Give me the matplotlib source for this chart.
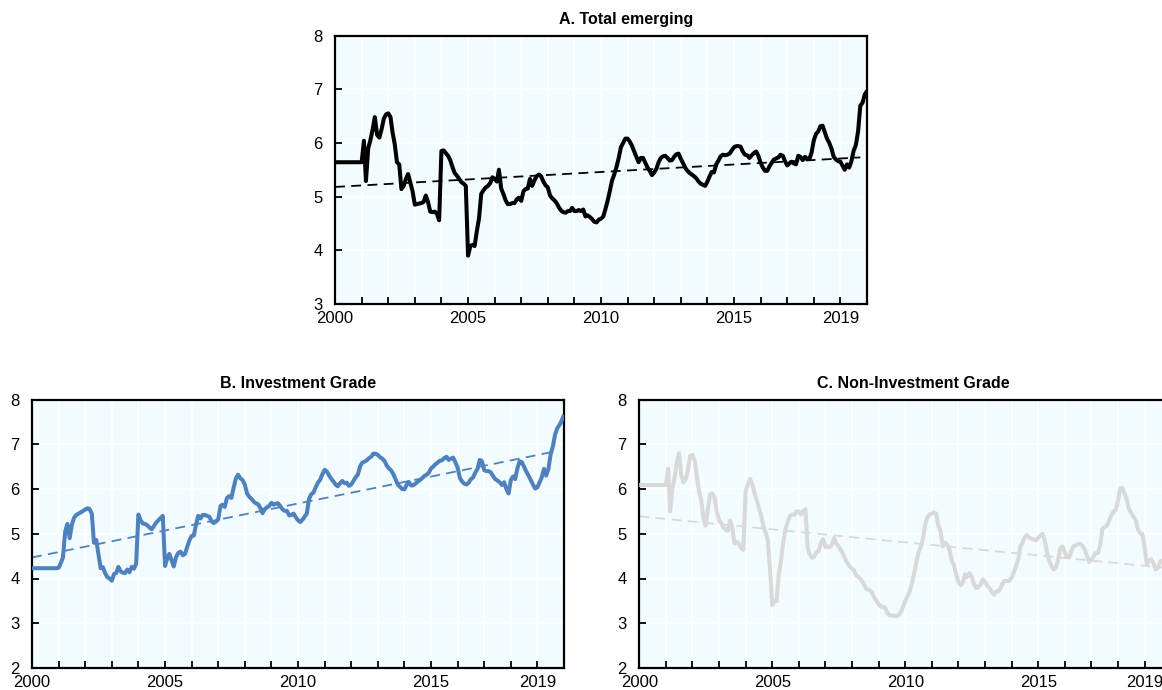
import matplotlib
matplotlib.use("Agg")
import matplotlib.pyplot as plt
import pandas as pd

plt.rcParams['font.family'] = ['Liberation Sans', 'DejaVu Sans']

# ---------------- data (monthly, starting January 2000) ----------------
start_date = '2000-01-01'

total_emerging = [
    5.64, 5.64, 5.64, 5.64, 5.64, 5.64, 5.64, 5.64, 5.64, 5.64, 5.64, 5.64,
    5.64, 6.04, 5.29, 5.90, 6.05, 6.25, 6.48, 6.15, 6.10, 6.25, 6.45, 6.53,
    6.55, 6.48, 6.20, 5.97, 5.64, 5.60, 5.14, 5.20, 5.33, 5.42, 5.26, 5.10,
    4.85, 4.86, 4.87, 4.88, 4.90, 5.02, 4.90, 4.72, 4.71, 4.72, 4.68, 4.56,
    5.85, 5.86, 5.81, 5.76, 5.68, 5.55, 5.44, 5.39, 5.33, 5.27, 5.24, 5.20,
    3.90, 4.08, 4.10, 4.08, 4.35, 4.60, 5.05, 5.12, 5.17, 5.20, 5.25, 5.36,
    5.33, 5.28, 5.50, 5.15, 5.05, 4.93, 4.86, 4.86, 4.88, 4.88, 4.95, 4.98,
    4.92, 5.10, 5.14, 5.15, 5.33, 5.20, 5.30, 5.38, 5.41, 5.38, 5.28, 5.21,
    5.17, 5.02, 4.97, 4.93, 4.88, 4.80, 4.74, 4.71, 4.70, 4.73, 4.73, 4.79,
    4.73, 4.73, 4.75, 4.73, 4.76, 4.63, 4.65, 4.62, 4.58, 4.53, 4.52, 4.57,
    4.59, 4.63, 4.76, 4.92, 5.10, 5.30, 5.41, 5.55, 5.72, 5.92, 6.00, 6.08,
    6.08, 6.02, 5.95, 5.84, 5.74, 5.64, 5.72, 5.72, 5.63, 5.54, 5.48, 5.40,
    5.45, 5.52, 5.64, 5.72, 5.75, 5.76, 5.72, 5.67, 5.68, 5.74, 5.79, 5.80,
    5.70, 5.62, 5.54, 5.48, 5.44, 5.41, 5.38, 5.34, 5.28, 5.24, 5.22, 5.20,
    5.28, 5.38, 5.46, 5.45, 5.60, 5.67, 5.75, 5.78, 5.77, 5.78, 5.80, 5.86,
    5.92, 5.94, 5.94, 5.93, 5.84, 5.78, 5.77, 5.72, 5.77, 5.81, 5.84, 5.76,
    5.63, 5.54, 5.48, 5.48, 5.56, 5.63, 5.69, 5.71, 5.73, 5.78, 5.76, 5.66,
    5.58, 5.62, 5.65, 5.62, 5.60, 5.76, 5.74, 5.68, 5.74, 5.71, 5.70, 5.82,
    6.05, 6.17, 6.21, 6.31, 6.32, 6.20, 6.08, 6.00, 5.89, 5.74, 5.69, 5.66,
    5.65, 5.57, 5.50, 5.60, 5.54, 5.66, 5.85, 5.96, 6.22, 6.69, 6.75, 6.90,
    6.97,
]

investment_grade = [
    4.23, 4.23, 4.23, 4.23, 4.23, 4.23, 4.23, 4.23, 4.23, 4.23, 4.23, 4.23,
    4.24, 4.35, 4.47, 5.05, 5.22, 4.90, 5.20, 5.36, 5.42, 5.45, 5.48, 5.51,
    5.54, 5.57, 5.55, 5.45, 4.80, 4.86, 4.55, 4.23, 4.25, 4.12, 4.03, 4.00,
    3.95, 4.10, 4.12, 4.26, 4.16, 4.13, 4.12, 4.20, 4.14, 4.26, 4.22, 4.33,
    5.43, 5.30, 5.23, 5.22, 5.19, 5.14, 5.10, 5.17, 5.25, 5.30, 5.35, 5.40,
    4.28, 4.46, 4.55, 4.40, 4.27, 4.48, 4.57, 4.60, 4.52, 4.55, 4.70, 4.85,
    4.95, 4.96, 5.20, 5.40, 5.34, 5.42, 5.42, 5.40, 5.38, 5.28, 5.24, 5.27,
    5.32, 5.62, 5.65, 5.60, 5.80, 5.84, 5.80, 6.03, 6.24, 6.32, 6.24, 6.20,
    6.10, 5.90, 5.83, 5.78, 5.72, 5.68, 5.66, 5.58, 5.46, 5.55, 5.59, 5.62,
    5.69, 5.65, 5.67, 5.68, 5.62, 5.55, 5.51, 5.51, 5.41, 5.42, 5.45, 5.37,
    5.30, 5.26, 5.31, 5.38, 5.45, 5.78, 5.88, 5.92, 6.04, 6.14, 6.21, 6.33,
    6.43, 6.39, 6.31, 6.23, 6.17, 6.10, 6.06, 6.13, 6.18, 6.13, 6.14, 6.07,
    6.10, 6.18, 6.26, 6.32, 6.50, 6.59, 6.61, 6.64, 6.69, 6.72, 6.79, 6.79,
    6.76, 6.71, 6.68, 6.63, 6.53, 6.46, 6.42, 6.33, 6.22, 6.10, 6.05, 6.00,
    5.99, 6.10, 6.16, 6.08, 6.08, 6.12, 6.16, 6.20, 6.24, 6.29, 6.32, 6.36,
    6.46, 6.50, 6.55, 6.59, 6.63, 6.64, 6.69, 6.72, 6.65, 6.68, 6.70, 6.60,
    6.48, 6.25, 6.17, 6.12, 6.10, 6.14, 6.22, 6.26, 6.37, 6.45, 6.65, 6.62,
    6.42, 6.40, 6.40, 6.37, 6.29, 6.22, 6.19, 6.15, 6.09, 6.15, 6.00, 5.90,
    6.20, 6.28, 6.22, 6.46, 6.62, 6.60, 6.50, 6.39, 6.30, 6.20, 6.10, 6.01,
    6.04, 6.15, 6.26, 6.45, 6.30, 6.45, 6.77, 6.95, 7.22, 7.36, 7.43, 7.53,
    7.66,
]

non_investment_grade = [
    6.09, 6.09, 6.09, 6.09, 6.09, 6.09, 6.09, 6.09, 6.09, 6.09, 6.09, 6.09,
    6.09, 6.45, 5.50, 6.02, 6.25, 6.60, 6.80, 6.30, 6.15, 6.22, 6.42, 6.74,
    6.76, 6.64, 6.30, 5.95, 5.76, 5.35, 5.18, 5.55, 5.88, 5.90, 5.80, 5.50,
    5.30, 5.23, 5.14, 5.09, 5.07, 5.30, 5.14, 4.78, 4.82, 4.77, 4.68, 4.64,
    5.95, 6.10, 6.23, 6.12, 5.92, 5.75, 5.58, 5.40, 5.17, 5.03, 4.85, 4.20,
    3.40, 3.50, 3.49, 4.10, 4.40, 4.82, 5.10, 5.27, 5.40, 5.43, 5.42, 5.50,
    5.50, 5.43, 5.50, 5.55, 4.70, 4.53, 4.46, 4.50, 4.59, 4.62, 4.80, 4.88,
    4.70, 4.72, 4.70, 4.75, 4.90, 4.78, 4.72, 4.64, 4.55, 4.43, 4.34, 4.27,
    4.22, 4.17, 4.06, 4.03, 3.98, 3.91, 3.80, 3.75, 3.74, 3.69, 3.58, 3.50,
    3.43, 3.37, 3.37, 3.34, 3.23, 3.18, 3.17, 3.17, 3.16, 3.18, 3.25, 3.36,
    3.50, 3.60, 3.70, 3.87, 4.10, 4.35, 4.58, 4.70, 4.88, 5.20, 5.37, 5.43,
    5.45, 5.48, 5.45, 5.18, 5.05, 4.72, 4.80, 4.75, 4.64, 4.40, 4.30, 4.10,
    3.92, 3.85, 3.90, 4.10, 4.03, 4.12, 4.04, 3.88, 3.79, 3.80, 3.87, 3.98,
    3.92, 3.84, 3.79, 3.71, 3.64, 3.71, 3.71, 3.78, 3.90, 3.95, 3.94, 3.95,
    4.02, 4.15, 4.27, 4.42, 4.72, 4.80, 4.93, 4.97, 4.91, 4.89, 4.87, 4.85,
    4.91, 4.96, 5.00, 4.85, 4.58, 4.40, 4.28, 4.20, 4.25, 4.42, 4.67, 4.72,
    4.58, 4.48, 4.47, 4.62, 4.72, 4.74, 4.77, 4.77, 4.73, 4.64, 4.50, 4.37,
    4.42, 4.50, 4.57, 4.57, 4.75, 5.12, 5.15, 5.18, 5.30, 5.41, 5.50, 5.53,
    5.75, 6.02, 6.02, 5.90, 5.76, 5.55, 5.47, 5.38, 5.30, 5.10, 5.01, 5.00,
    4.70, 4.30, 4.40, 4.43, 4.35, 4.20, 4.24, 4.37, 4.42,
]

# linear trends (start / end values)
trend_dates = ['2000-01-01', '2019-10-01']
trend_total = [5.18, 5.73]
trend_ig = [4.47, 6.85]
trend_nig = [5.39, 4.24]

titles = ['A. Total emerging', 'B. Investment Grade', 'C. Non-Investment Grade']
year_labels = [2000, 2005, 2010, 2015, 2019]

# ---------------- styling ----------------
BG = '#F2FCFF'
W, H = 1162, 690
fig = plt.figure(figsize=(W / 100, H / 100), dpi=100)
fig.patch.set_facecolor('white')

axA = fig.add_axes([335 / W, 1 - 304 / H, 532 / W, 268.5 / H])
axB = fig.add_axes([32 / W, 1 - 668 / H, 532 / W, 268.5 / H])
axC = fig.add_axes([639.2 / W, 1 - 668 / H, 532 / W, 268.5 / H])


def draw(ax, series, color, tcolor, trend, ylim, title, title_x):
    dates = pd.date_range(start_date, periods=len(series), freq='MS')
    ax.set_facecolor(BG)
    ax.set_axisbelow(True)
    ax.grid(True, color='white', lw=1.2)
    ax.plot(pd.to_datetime(trend_dates), trend, color=tcolor, lw=1.3,
            ls=(0, (5.5, 3.5)), zorder=2)
    ax.plot(dates, series, color=color, lw=2.9, solid_joinstyle='round',
            solid_capstyle='butt', zorder=3)
    ax.set_xlim(pd.Timestamp('2000-01-01'), pd.Timestamp('2020-01-01'))
    ax.set_ylim(*ylim)
    ax.set_yticks(range(ylim[0], ylim[1] + 1))
    yrs = list(range(2000, 2020))
    ax.set_xticks([pd.Timestamp(f'{y}-01-01') for y in yrs])
    ax.set_xticklabels([str(y) if y in year_labels else '' for y in yrs])
    ax.tick_params(direction='in', length=5, width=1.3, labelsize=12,
                   colors='black')
    ax.tick_params(axis='x', pad=5)
    ax.tick_params(axis='y', pad=9)
    for s in ax.spines.values():
        s.set_linewidth(1.6)
        s.set_color('black')
    ax.set_title(title, fontweight='bold', fontsize=11.5, pad=8, x=title_x)


draw(axA, total_emerging, 'black', 'black', trend_total, (3, 8), titles[0], 0.547)
draw(axB, investment_grade, '#4F81BD', '#4F81BD', trend_ig, (2, 8), titles[1], 0.5)
draw(axC, non_investment_grade, '#D9D9D9', '#D9D9D9', trend_nig, (2, 8), titles[2], 0.515)

fig.savefig('out.png', dpi=100, facecolor='white')
